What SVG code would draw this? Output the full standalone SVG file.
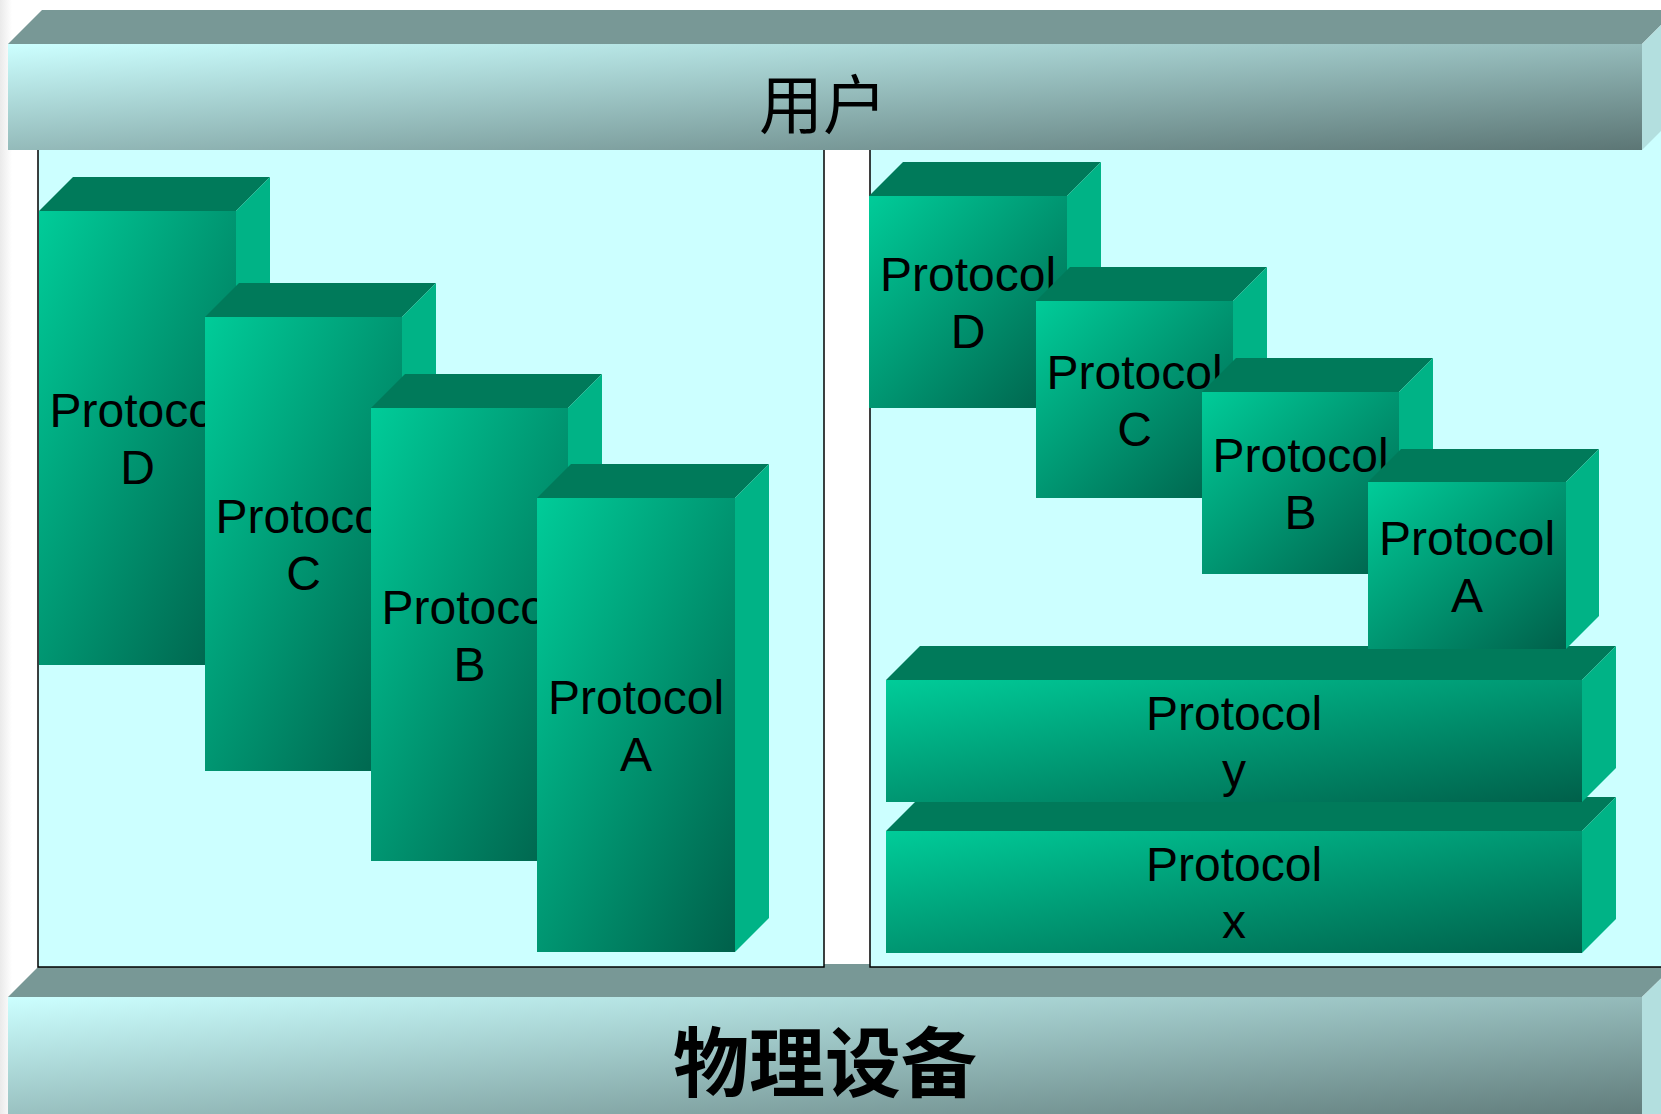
<svg xmlns="http://www.w3.org/2000/svg" width="1661" height="1114" viewBox="0 0 1661 1114">
<defs>
<linearGradient id="gFront" x1="0" y1="0" x2="1" y2="1">
<stop offset="0" stop-color="#00CC99"/>
<stop offset="1" stop-color="#00604A"/>
</linearGradient>
<linearGradient id="gBar" x1="0" y1="0" x2="1" y2="1">
<stop offset="0" stop-color="#CCFFFF"/>
<stop offset="1" stop-color="#5C7675"/>
</linearGradient>
<linearGradient id="gEdge" x1="0" y1="0" x2="1" y2="0">
<stop offset="0" stop-color="#EAEAEA"/>
<stop offset="1" stop-color="#FFFFFF"/>
</linearGradient>
<style>
.top{fill:#007A5A}
.side{fill:#00B386}
.front{fill:url(#gFront)}
.barTop{fill:#789896}
.barSide{fill:#B3DFDF}
.barFront{fill:url(#gBar)}
.panel{fill:#CCFFFF;stroke:#000;stroke-width:1.5}
.lbl{font-family:"Liberation Sans",Arial,sans-serif;font-size:48px;text-anchor:middle;fill:#000}
.cjk{font-family:"Noto Sans CJK SC","Noto Sans CJK JP",sans-serif;text-anchor:middle;fill:#000}
</style>
</defs>
<rect x="0" y="0" width="1661" height="1114" fill="#FFFFFF"/>
<rect x="0" y="0" width="12" height="1114" fill="url(#gEdge)"/>

<g id="bar-bottom">
<polygon class="barTop" points="8,997 41,964 1676,964 1642,997"/>
<polygon class="barSide" points="1642,997 1676,964 1676,1130 1642,1130"/>
<rect class="barFront" x="8" y="997" width="1634" height="130"/>
<text class="cjk" x="825" y="1091" font-size="76" font-weight="bold">物理设备</text>
</g>

<g id="panel-left"><rect class="panel" x="38" y="100" width="786" height="867"/></g>
<g id="panel-right"><rect class="panel" x="870" y="100" width="850" height="867"/></g>

<g id="bar-top">
<polygon class="barTop" points="8,44 42,10 1676,10 1642,44"/>
<polygon class="barSide" points="1642,44 1676,10 1676,116 1642,150"/>
<rect class="barFront" x="8" y="44" width="1634" height="106"/>
<text class="cjk" x="823" y="128" font-size="64">用户</text>
</g>

<g id="left-D">
<polygon class="top" points="39,211 73,177 270,177 236,211"/>
<polygon class="side" points="236,211 270,177 270,631 236,665"/>
<rect class="front" x="39" y="211" width="197" height="454"/>
<text class="lbl" x="137.5" y="427">Protocol</text>
<text class="lbl" x="137.5" y="484">D</text>
</g>
<g id="left-C">
<polygon class="top" points="205,317 239,283 436,283 402,317"/>
<polygon class="side" points="402,317 436,283 436,737 402,771"/>
<rect class="front" x="205" y="317" width="197" height="454"/>
<text class="lbl" x="303.5" y="533">Protocol</text>
<text class="lbl" x="303.5" y="590">C</text>
</g>
<g id="left-B">
<polygon class="top" points="371,408 405,374 602,374 568,408"/>
<polygon class="side" points="568,408 602,374 602,827 568,861"/>
<rect class="front" x="371" y="408" width="197" height="453"/>
<text class="lbl" x="469.5" y="623.5">Protocol</text>
<text class="lbl" x="469.5" y="680.5">B</text>
</g>
<g id="left-A">
<polygon class="top" points="537,498 571,464 769,464 735,498"/>
<polygon class="side" points="735,498 769,464 769,918 735,952"/>
<rect class="front" x="537" y="498" width="198" height="454"/>
<text class="lbl" x="636" y="714">Protocol</text>
<text class="lbl" x="636" y="771">A</text>
</g>

<g id="right-x">
<polygon class="top" points="886,831 920,797 1616,797 1582,831"/>
<polygon class="side" points="1582,831 1616,797 1616,919 1582,953"/>
<rect class="front" x="886" y="831" width="696" height="122"/>
<text class="lbl" x="1234" y="881">Protocol</text>
<text class="lbl" x="1234" y="938">x</text>
</g>
<g id="right-y">
<polygon class="top" points="886,680 920,646 1616,646 1582,680"/>
<polygon class="side" points="1582,680 1616,646 1616,768 1582,802"/>
<rect class="front" x="886" y="680" width="696" height="122"/>
<text class="lbl" x="1234" y="730">Protocol</text>
<text class="lbl" x="1234" y="787">y</text>
</g>
<g id="right-D">
<polygon class="top" points="869,196 903,162 1101,162 1067,196"/>
<polygon class="side" points="1067,196 1101,162 1101,374 1067,408"/>
<rect class="front" x="869" y="196" width="198" height="212"/>
<text class="lbl" x="968" y="291">Protocol</text>
<text class="lbl" x="968" y="348">D</text>
</g>
<g id="right-C">
<polygon class="top" points="1036,301 1070,267 1267,267 1233,301"/>
<polygon class="side" points="1233,301 1267,267 1267,464 1233,498"/>
<rect class="front" x="1036" y="301" width="197" height="197"/>
<text class="lbl" x="1134.5" y="388.5">Protocol</text>
<text class="lbl" x="1134.5" y="445.5">C</text>
</g>
<g id="right-B">
<polygon class="top" points="1202,392 1236,358 1433,358 1399,392"/>
<polygon class="side" points="1399,392 1433,358 1433,540 1399,574"/>
<rect class="front" x="1202" y="392" width="197" height="182"/>
<text class="lbl" x="1300.5" y="472">Protocol</text>
<text class="lbl" x="1300.5" y="529">B</text>
</g>
<g id="right-A">
<polygon class="top" points="1368,482 1401,449 1599,449 1566,482"/>
<polygon class="side" points="1566,482 1599,449 1599,616 1566,649"/>
<rect class="front" x="1368" y="482" width="198" height="167"/>
<text class="lbl" x="1467" y="554.5">Protocol</text>
<text class="lbl" x="1467" y="611.5">A</text>
</g>
<g id="connectors"/>
</svg>
